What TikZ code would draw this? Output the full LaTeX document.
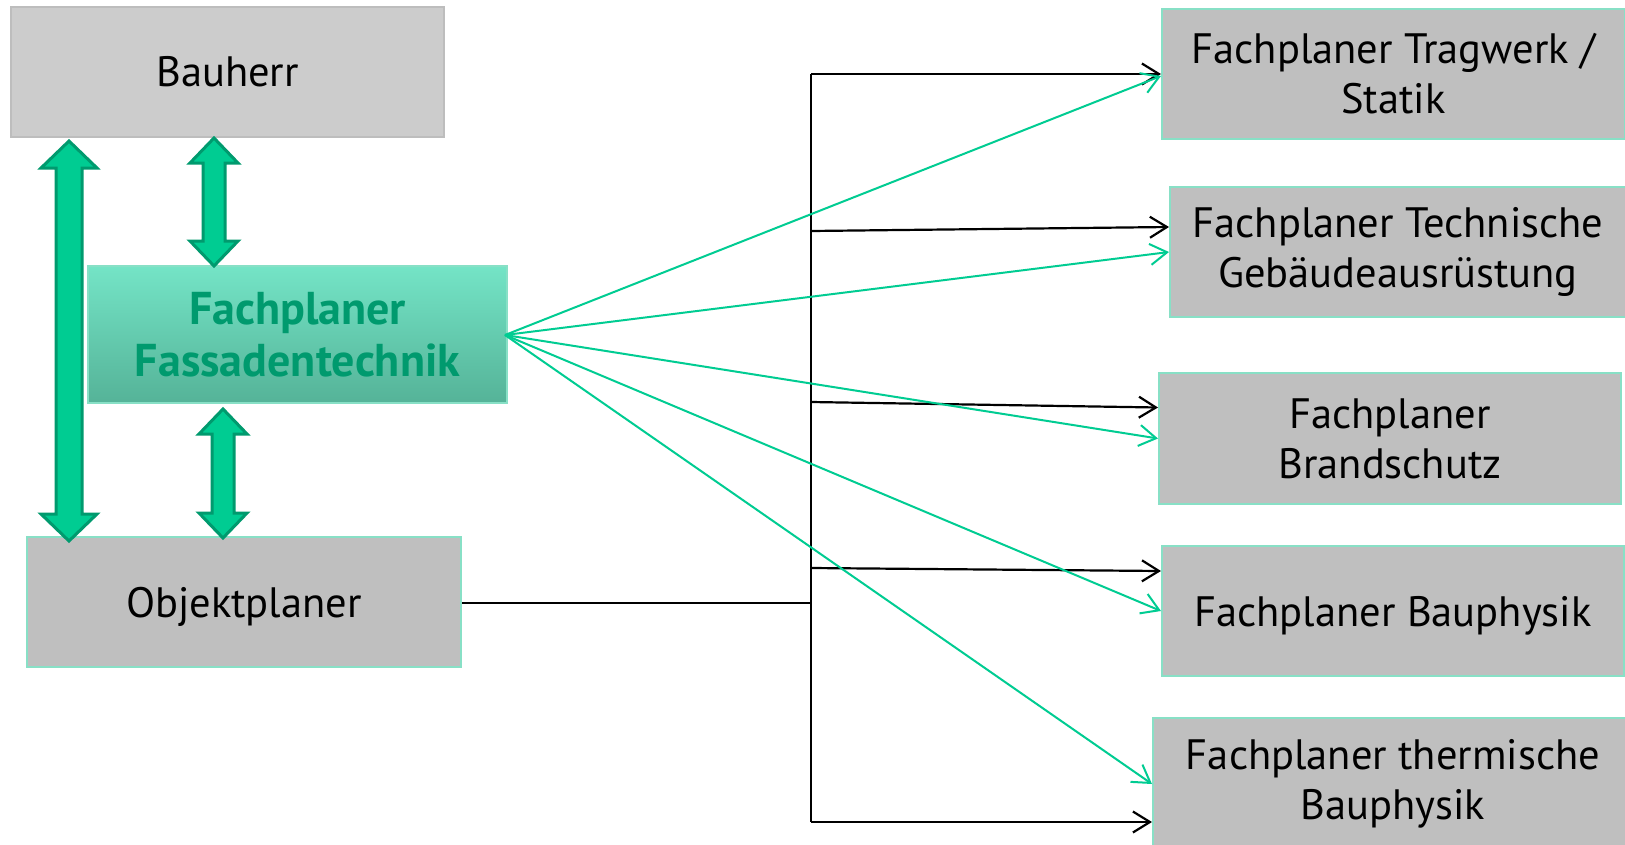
\documentclass[tikz,border=0pt]{standalone}
\usepackage{fontspec}
\setmainfont{PT Sans}
\usetikzlibrary{arrows.meta,calc}
\definecolor{boxgray}{HTML}{BFBFBF}
\definecolor{lightgray}{HTML}{CCCCCC}
\definecolor{graybord}{HTML}{BDBDBD}
\definecolor{mintbord}{HTML}{88E0C6}
\definecolor{teal}{HTML}{00CC92}
\definecolor{darkteal}{HTML}{009A6E}
\definecolor{gradtop}{HTML}{74E4C6}
\definecolor{gradbot}{HTML}{55B398}
\newcommand\bigdarrow[6]{%
  \filldraw[bigarrow] (#1,#2) -- (#1+#5,#2+#6) -- (#1+#4,#2+#6) -- (#1+#4,#3-#6)
    -- (#1+#5,#3-#6) -- (#1,#3) -- (#1-#5,#3-#6) -- (#1-#4,#3-#6)
    -- (#1-#4,#2+#6) -- (#1-#5,#2+#6) -- cycle;}
\begin{document}
\begin{tikzpicture}[x=1pt,y=-1pt,
  txt/.style={font=\fontsize{42.5}{50}\selectfont, align=center, text=black},
  graybox/.style={txt, draw=mintbord, line width=2pt, fill=boxgray, inner sep=0pt},
  bigarrow/.style={fill=teal, draw=darkteal, line width=3pt, line join=miter},
  blk/.style={draw=black, line width=2.2pt},
  blkarr/.style={blk, -{Straight Barb[length=17pt,width=21pt,line width=2.2pt]}},
  grnarr/.style={draw=teal, line width=2pt, -{Straight Barb[length=17pt,width=21pt,line width=2pt]}}]
\useasboundingbox (0,0) rectangle (1625,844);
\clip (0,0) rectangle (1625,844);
\fill[white] (0,0) rectangle (1625,844);

% left boxes
\node[txt, draw=graybord, line width=2pt, fill=lightgray, minimum width=433pt, minimum height=130pt, inner sep=0pt] (bauherr) at (227.5,72) {Bauherr};
\node[draw=mintbord, line width=2pt, top color=gradtop, bottom color=gradbot, minimum width=419pt, minimum height=137pt, inner sep=0pt,
      font=\fontsize{46}{52}\selectfont\bfseries, text=darkteal, align=center] (fass) at (297.5,334.5) {Fachplaner\\Fassadentechnik};
\node[graybox, text depth=0pt, minimum width=434pt, minimum height=130pt] (objekt) at (244,602) {Objektplaner};

% right boxes
\node[graybox, minimum width=463pt, minimum height=130pt] (trag) at (1393.5,74) {Fachplaner Tragwerk /\\Statik};
\node[graybox, minimum width=456pt, minimum height=130pt] (tga) at (1398,252) {Fachplaner Technische\\Gebäudeausrüstung};
\node[graybox, minimum width=462pt, minimum height=131pt] (brand) at (1390,438.5) {Fachplaner\\Brandschutz};
\node[graybox, text depth=0pt, minimum width=462pt, minimum height=130pt] (bphys) at (1393,611) {Fachplaner Bauphysik};
\node[graybox, minimum width=480pt, minimum height=132pt] (therm) at (1393,784) {Fachplaner thermische\\Bauphysik};

% big double arrows
\bigdarrow{69}{141}{541}{13}{28}{27}
\bigdarrow{214}{138}{266}{11}{24}{25}
\bigdarrow{223}{409}{538}{11}{24}{25}

% black bus
\coordinate (bustop) at (811,74);
\coordinate (busjoin) at (811,603);
\coordinate (b2) at (811,231);
\coordinate (b3) at (811,402);
\coordinate (b4) at (811,568);
\coordinate (busbot) at (811,822);
\draw[blk] (objekt.east |- busjoin) -- (busjoin);
\draw[blk] (bustop) -- (busbot);
\draw[blkarr] (bustop) -- (trag.west |- bustop);
\draw[blkarr] (b2) -- ([yshift=25pt]tga.west);
\draw[blkarr] (b3) -- ([yshift=31pt]brand.west);
\draw[blkarr] (b4) -- ([yshift=40pt]bphys.west);
\draw[blkarr] (busbot) -- (therm.west |- busbot);

% green arrows
\coordinate (gs) at (505,335);
\draw[grnarr] (gs) -- ([yshift=-2pt]trag.west);
\draw[grnarr] (gs) -- (tga.west);
\draw[grnarr] (gs) -- (brand.west);
\draw[grnarr] (gs) -- (bphys.west);
\draw[grnarr] (gs) -- (therm.west);
\end{tikzpicture}
\end{document}
